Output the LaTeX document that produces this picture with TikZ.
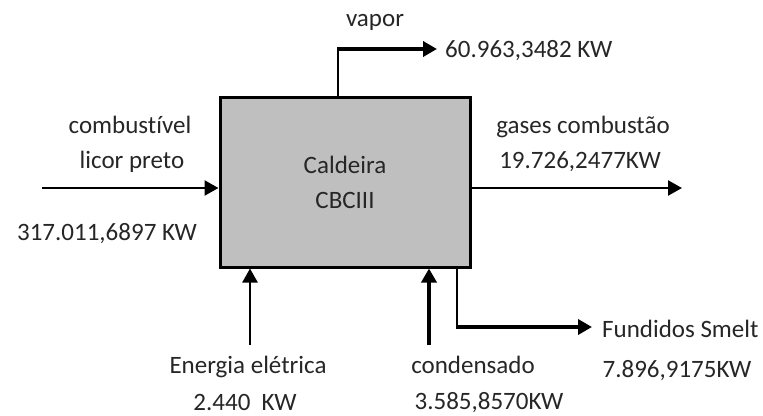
\documentclass[tikz,border=0pt]{standalone}
\usepackage{fontspec}
\setmainfont{Carlito}[Ligatures=NoCommon]
\usetikzlibrary{arrows.meta}
\begin{document}
\begin{tikzpicture}[x=1pt,y=-1pt,
  lbl/.style={font=\fontsize{25}{30}\selectfont, text=black!85, inner sep=0pt, anchor=base},
  thinln/.style={line width=1.3pt},
  midarrow/.style={line width=2.4pt, -{Triangle[length=14pt,width=15pt]}},
  bigarrow/.style={line width=4pt, -{Triangle[length=14pt,width=15pt]}},
  boilerbox/.style={draw, line width=3pt, fill=black!25, minimum width=250pt, minimum height=170pt,
    inner sep=0pt, align=center, font=\fontsize{25}{35}\selectfont, text=black!85}
]
\useasboundingbox (0,0) rectangle (763,415);
\node[boilerbox] (boiler) at (345,182) {Caldeira\\CBCIII};

% vapor
\coordinate (vtop) at (338,49);
\coordinate (vend) at (437,49);
\draw[thinln] (boiler.north -| vtop) -- (vtop);
\draw[bigarrow] ([xshift=-1pt]vtop) -- (vend);
\node[lbl] (vaporlbl) at (375,26) {vapor};
\node[lbl, anchor=base west] (vaporval) at (445,57) {60.963,3482 KW};

% combustivel
\coordinate (cin) at (42,188);
\draw[midarrow] (cin) -- (boiler.west |- cin);
\node[lbl] (comb1) at (130,133) {combustível};
\node[lbl] (comb2) at (132,168) {licor preto};
\node[lbl] (combval) at (107,240) {317.011,6897 KW};

% gases
\coordinate (gout) at (682,188);
\draw[midarrow] (boiler.east |- gout) -- (gout);
\node[lbl] (gas1) at (583,133) {gases combustão};
\node[lbl] (gasval) at (580,168) {19.726,2477KW};

% energia
\coordinate (ein) at (250,345);
\draw[midarrow] (ein) -- (boiler.south -| ein);
\node[lbl] (en1) at (248,373) {Energia elétrica};
\node[lbl] (enval) at (245,410) {2.440\ \ KW};

% condensado
\coordinate (cdin) at (429,345);
\draw[bigarrow] (cdin) -- (boiler.south -| cdin);
\node[lbl] (cd1) at (473,373) {condensado};
\node[lbl] (cdval) at (489,409) {3.585,8570KW};

% smelt
\coordinate (sbot) at (457,327);
\coordinate (send) at (592,327);
\draw[thinln] (boiler.south -| sbot) -- (sbot);
\draw[bigarrow] ([xshift=-1pt]sbot) -- (send);
\node[lbl, anchor=base west] (sm1) at (602,337) {Fundidos Smelt};
\node[lbl] (smval) at (677,377) {7.896,9175KW};
\end{tikzpicture}
\end{document}
